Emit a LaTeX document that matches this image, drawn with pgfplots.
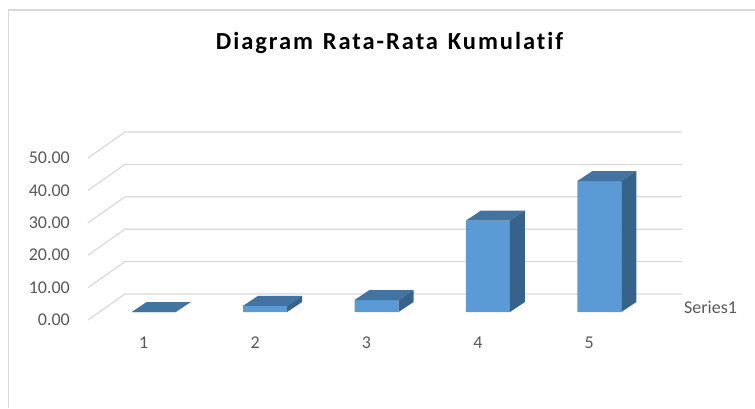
\documentclass[border=0pt]{standalone}
\usepackage{pgfplots}
\pgfplotsset{compat=1.18}
\usepackage{pgfplotstable}
\usepackage{fontspec}
\setmainfont{Carlito}
\newfontfamily\titlefont[LetterSpace=8,Ligatures={NoCommon},WordSpace=1.3]{Carlito}
\definecolor{frontc}{HTML}{5B9BD5}
\definecolor{topc}{HTML}{4373A0}
\definecolor{sidec}{HTML}{37628A}
\definecolor{gridc}{HTML}{D9D9D9}
\definecolor{txtc}{HTML}{595959}
\newlength\barh
\pgfdeclareplotmark{cubefaces}{%
  \pgfmathsetlength{\barh}{\barv*\pgfplotsunitylength}%
  \pgfpathmoveto{\pgfpoint{-12pt}{8pt}}%
  \pgfpathlineto{\pgfpoint{32pt}{8pt}}%
  \pgfpathlineto{\pgfpoint{47pt}{18pt}}%
  \pgfpathlineto{\pgfpoint{3pt}{18pt}}%
  \pgfpathclose
  \pgfsetfillcolor{topc}%
  \pgfusepath{fill}%
  \pgfpathmoveto{\pgfpoint{32pt}{8pt-\barh}}%
  \pgfpathlineto{\pgfpoint{32pt}{8pt}}%
  \pgfpathlineto{\pgfpoint{47pt}{18pt}}%
  \pgfpathlineto{\pgfpoint{47pt}{18pt-\barh}}%
  \pgfpathclose
  \pgfsetfillcolor{sidec}%
  \pgfusepath{fill}%
}
\pgfplotstableread{
c v
1 0
2 1.9
3 3.7
4 28.2
5 40.4
}\datatable
\begin{document}
\begin{tikzpicture}
\useasboundingbox (0,0) rectangle (755pt,408pt);
\draw[gridc, line width=1.5pt] (8.5pt,0pt) -- (8.5pt,398pt) -- (755pt,398pt);
\node[anchor=base, font=\titlefont\fontsize{24.5}{28}\selectfont\bfseries, text=black] at (389.5pt,359pt) {Diagram Rata-Rata Kumulatif};
\begin{axis}[
  at={(88pt,88pt)}, anchor=south west,
  scale only axis, width=557pt, height=162pt,
  xmin=0.5, xmax=5.5, ymin=0, ymax=50,
  disabledatascaling,
  clip=false,
  axis line style={draw=none},
  major tick length=0pt,
  xtick={1,2,3,4,5},
  xticklabels={1,2,3,4,5},
  ytick={0,10,20,30,40,50},
  yticklabels={0.00,10.00,20.00,30.00,40.00,50.00},
  ticklabel style={font=\fontsize{18}{20}\selectfont, text=txtc, inner sep=0pt},
  yticklabel style={anchor=east, xshift=-18pt},
  xticklabel style={anchor=north, yshift=-17pt},
]
\pgfplotsinvokeforeach{0,10,20,30,40,50}{
  \draw[gridc, line width=1.2pt] (axis cs:0.5,#1) -- ++(37pt,26pt) -- ++(557pt,0pt);
}
\addplot[ybar, bar width=44pt, bar shift=10pt, yshift=8pt, fill=frontc, draw=none] table[x=c,y=v]{\datatable};
\addplot[only marks, mark=cubefaces, visualization depends on={\thisrow{v}\as\barv}] table[x=c,y=v]{\datatable};
\node[anchor=base west, font=\fontsize{18}{20}\selectfont, text=txtc, inner sep=0pt] at (axis cs:5.5,0) [xshift=39pt, yshift=7pt] {Series1};
\end{axis}
\end{tikzpicture}
\end{document}
